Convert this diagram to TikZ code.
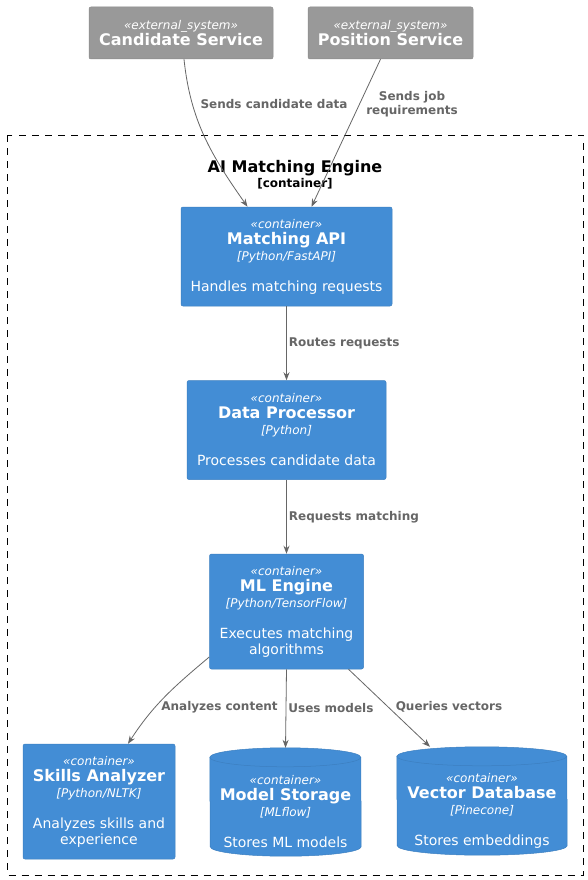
\documentclass[tikz,border=0pt]{standalone}
\usepackage{fontspec}
\setmainfont{DejaVu Sans}
\usetikzlibrary{arrows.meta}
\definecolor{contblue}{HTML}{438DD5}
\definecolor{contline}{HTML}{3C7FC0}
\definecolor{extgray}{HTML}{999999}
\definecolor{extline}{HTML}{8A8A8A}
\definecolor{relgray}{HTML}{666666}
\tikzset{
  elem/.style={rectangle, rounded corners=2pt, text=white, align=center, inner sep=0pt,
    line width=0.5pt, font=\fontsize{12}{16}\selectfont},
  contbox/.style={elem, fill=contblue, draw=contline},
  extbox/.style={elem, fill=extgray, draw=extline},
  dbarea/.style={rectangle, inner sep=0pt},
  dbtext/.style={text=white, align=center, inner sep=0pt, font=\fontsize{12}{16}\selectfont},
  rel/.style={draw=relgray, line width=0.8pt, -{Stealth[length=8pt,width=6pt]}},
  rellbl/.style={text=relgray, align=center, inner sep=2pt, font=\fontsize{12}{14}\selectfont\bfseries}
}
\newcommand{\dsc}{\fontsize{14}{16}\selectfont}
\newcommand{\extlbl}[2]{{\itshape «#1»}\\{\fontsize{16}{17}\selectfont\bfseries #2}}
\newcommand{\contlbl}[4]{{\itshape «#1»}\\{\fontsize{16}{16}\selectfont\bfseries #2}\\{\itshape [#3]}\\[15pt]\dsc #4}
\begin{document}
\begin{tikzpicture}[x=1pt,y=-1pt]
  \path[use as bounding box, fill=white] (0,0) rectangle (588,880);
  % outside systems
  \node[extbox, minimum width=184pt, minimum height=52pt] (cand) at (181,33) {\extlbl{external\_system}{Candidate Service}};
  \node[extbox, minimum width=165pt, minimum height=52pt] (posn) at (390.5,33) {\extlbl{external\_system}{Position Service}};
  % boundary
  \draw[dash pattern=on 7pt off 6pt, line width=0.8pt] (7.5,135) rectangle (583,875);
  \node[font=\fontsize{16}{18}\selectfont\bfseries] (bndname) at (295,168) {AI Matching Engine};
  \node[font=\fontsize{12}{14}\selectfont\bfseries] (bndtype) at (295,184) {[container]};
  % containers
  \node[contbox, minimum width=211pt, minimum height=99pt] (api) at (286.5,256.5)
    {\contlbl{container}{Matching API}{Python/FastAPI}{Handles matching requests}};
  \node[contbox, minimum width=199pt, minimum height=99pt] (proc) at (286.5,430)
    {\contlbl{container}{Data Processor}{Python}{Processes candidate data}};
  \node[contbox, minimum width=154pt, minimum height=115pt] (mleng) at (286.5,611.5)
    {\contlbl{container}{ML Engine}{Python/TensorFlow}{Executes matching\\\dsc algorithms}};
  \node[contbox, minimum width=152pt, minimum height=115pt] (skills) at (99,801.5)
    {\contlbl{container}{Skills Analyzer}{Python/NLTK}{Analyzes skills and\\\dsc experience}};
  % databases
  \node[dbarea, minimum width=151pt, minimum height=108pt] (mstore) at (285.5,802) {};
  \node[dbarea, minimum width=170pt, minimum height=108pt] (vdb) at (482,801) {};
  \foreach \db/\rx in {mstore/75.5, vdb/85} {
    \filldraw[fill=contblue, draw=contline, line width=0.5pt]
      ([yshift=-9.5pt]\db.north west) arc[start angle=180, end angle=0, x radius=\rx pt, y radius=9.5pt]
      -- ([yshift=9.5pt]\db.south east) arc[start angle=0, end angle=-180, x radius=\rx pt, y radius=9.5pt]
      -- cycle;
    \draw[contline, line width=0.5pt] ([yshift=-9.5pt]\db.north west)
      arc[start angle=180, end angle=360, x radius=\rx pt, y radius=9.5pt];
  }
  \node[dbtext] (mstoretxt) at ([yshift=-9.5pt]mstore.center)
    {\contlbl{container}{Model Storage}{MLflow}{Stores ML models}};
  \node[dbtext] (vdbtxt) at ([yshift=-9.5pt]vdb.center)
    {\contlbl{container}{Vector Database}{Pinecone}{Stores embeddings}};
  % relations
  \draw[rel] ([xshift=3pt]cand.south) to[out=-84,in=125] ([xshift=-39pt]api.north);
  \node[rellbl] (lcand) at (274,104) {Sends candidate data};
  \draw[rel] ([xshift=-10pt]posn.south) -- ([xshift=25pt]api.north);
  \node[rellbl] (lposn) at (412,104) {Sends job\\requirements};
  \draw[rel] (api) -- node[rellbl, right] {Routes requests} (proc);
  \draw[rel] (proc) -- node[rellbl, right] {Requests matching} (mleng);
  \draw[rel] ([yshift=-45.5pt]mleng.west) to[out=-140,in=57] ([xshift=29pt]skills.north);
  \node[rellbl] (lskills) at (219.5,707) {Analyzes content};
  \draw[rel] (mleng.south) -- node[rellbl, right, yshift=1pt] {Uses models} (mstore.north);
  \draw[rel] ([xshift=62pt]mleng.south) -- ([xshift=-52pt]vdb.north);
  \node[rellbl] (lvdb) at (449,707) {Queries vectors};
\end{tikzpicture}
\end{document}
